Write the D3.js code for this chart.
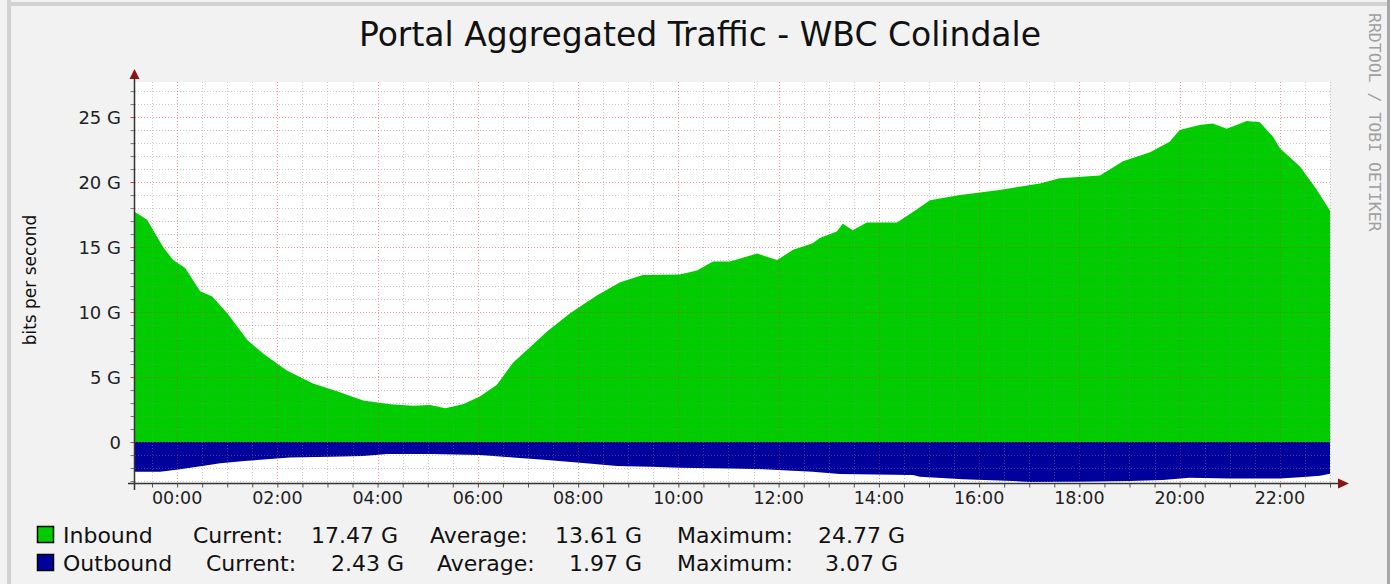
<!DOCTYPE html>
<html>
<head>
<meta charset="utf-8">
<script src="https://d3js.org/d3.v7.min.js"></script>
<style>
  body { margin: 0; background: #f2f2f2; }
  svg { display: block; font-family: "DejaVu Sans", sans-serif; }
</style>
</head>
<body>
<svg id="chart" width="1390" height="584"></svg>
<script>
// chart text
var titleText = "Portal Aggregated Traffic - WBC Colindale";
var yLabel = "bits per second";
var watermark = "RRDTOOL / TOBI OETIKER";

// inbound traffic, hours after midnight (negative = previous evening), in Gbit/s
var inTimes = [-0.84, -0.60, -0.28, -0.08, 0.16, 0.46, 0.70, 1.00, 1.40, 1.72, 2.19, 2.71, 3.19, 3.71,
  4.25, 4.71, 5.05, 5.35, 5.70, 6.04, 6.38, 6.70, 7.04, 7.38, 7.84, 8.38, 8.84, 9.29, 10.03, 10.37,
  10.69, 11.03, 11.57, 11.97, 12.29, 12.68, 12.82, 13.16, 13.28, 13.48, 13.76, 14.36, 14.68, 15.02,
  15.62, 16.41, 17.21, 17.61, 18.41, 18.87, 19.41, 19.80, 20.00, 20.40, 20.66, 20.94, 21.34, 21.60,
  21.86, 22.00, 22.40, 22.74, 23.00];
var inValues = [17.7, 17.1, 15.0, 14.0, 13.4, 11.6, 11.2, 9.9, 7.85, 6.8, 5.5, 4.5, 3.9, 3.2,
  2.9, 2.8, 2.85, 2.6, 2.9, 3.5, 4.4, 6.1, 7.3, 8.5, 9.9, 11.3, 12.3, 12.85, 12.9, 13.2,
  13.9, 13.9, 14.5, 14.0, 14.8, 15.3, 15.7, 16.2, 16.8, 16.3, 16.9, 16.9, 17.7, 18.6,
  19.0, 19.4, 19.9, 20.3, 20.5, 21.6, 22.3, 23.1, 24.0, 24.4, 24.5, 24.1, 24.7, 24.6,
  23.5, 22.6, 21.2, 19.4, 17.8];

// outbound traffic (drawn below zero), in Gbit/s
var outTimes = [-0.84, -0.34, 0.06, 0.40, 0.86, 1.40, 1.79, 2.25, 3.05, 3.71, 4.19, 5.05, 6.04, 6.70,
  7.38, 8.04, 8.78, 9.44, 10.03, 11.03, 11.69, 12.68, 13.22, 14.68, 14.82, 15.68, 16.67, 17.01,
  18.01, 19.01, 19.66, 20.20, 21.00, 22.00, 22.40, 22.80, 23.00];
var outValues = [2.28, 2.28, 2.1, 1.9, 1.64, 1.44, 1.33, 1.18, 1.13, 1.08, 0.92, 0.92, 1.0, 1.18,
  1.38, 1.59, 1.85, 1.9, 1.97, 2.03, 2.1, 2.28, 2.46, 2.54, 2.67, 2.87, 3.0, 3.07,
  3.05, 3.0, 2.92, 2.75, 2.8, 2.8, 2.7, 2.6, 2.43];

// axis ticks
var xTickHours = [0, 2, 4, 6, 8, 10, 12, 14, 16, 18, 20, 22];
var xTickLabels = ["00:00", "02:00", "04:00", "06:00", "08:00", "10:00", "12:00", "14:00", "16:00", "18:00", "20:00", "22:00"];
var yTickValues = [0, 5, 10, 15, 20, 25];
var yTickLabels = ["0", "5 G", "10 G", "15 G", "20 G", "25 G"];

// legend
var legendNames = ["Inbound", "Outbound"];
var legendCurrent = ["17.47 G", "2.43 G"];
var legendAverage = ["13.61 G", "1.97 G"];
var legendMaximum = ["24.77 G", "3.07 G"];
var legendColors = ["#00cc00", "#00009c"];

var svg = d3.select("#chart");

// plot box
var plotLeft = 135, plotRight = 1330, plotTop = 82, plotBottom = 483;

var x = d3.scaleLinear().domain([-0.84, 23.0]).range([plotLeft, plotRight]);
var y = d3.scaleLinear().domain([-3.15, 27.7]).range([plotBottom, plotTop]);

// frame
svg.append("rect").attr("width", 1390).attr("height", 584).attr("fill", "#f2f2f2");
svg.append("rect").attr("x", 7).attr("y", 0).attr("width", 4).attr("height", 584).attr("fill", "#d2d2d2");
svg.append("rect").attr("x", 7).attr("y", 2).attr("width", 1383).attr("height", 4).attr("fill", "#d2d2d2");
svg.append("rect").attr("x", 1387).attr("y", 0).attr("width", 3).attr("height", 584).attr("fill", "#a8a8a8");

// plot background
svg.append("rect")
  .attr("x", plotLeft).attr("y", plotTop)
  .attr("width", plotRight - plotLeft).attr("height", plotBottom - plotTop)
  .attr("fill", "#ffffff");

// areas
var inData = inTimes.map(function(t, i) { return [t, inValues[i]]; });
var outData = outTimes.map(function(t, i) { return [t, -outValues[i]]; });

var area = d3.area()
  .x(function(d) { return x(d[0]); })
  .y0(y(0))
  .y1(function(d) { return y(d[1]); });

svg.append("path").datum(inData).attr("d", area).attr("fill", legendColors[0]);
svg.append("path").datum(outData).attr("d", area).attr("fill", legendColors[1]);

// grid, drawn over the areas like rrdtool does
var minorX = d3.range(-0.5, 23.01, 0.5).filter(function(h) { return h % 2 !== 0; });
var minorY = d3.range(-3, 28, 1).filter(function(v) { return v % 5 !== 0; });

var grid = svg.append("g").attr("class", "grid");
grid.selectAll(".vminor").data(minorX).enter().append("line")
  .attr("x1", function(d) { return Math.round(x(d)) + 0.5; })
  .attr("x2", function(d) { return Math.round(x(d)) + 0.5; })
  .attr("y1", plotTop).attr("y2", plotBottom)
  .attr("stroke", "#8a8a8a").attr("stroke-opacity", 0.45).attr("stroke-dasharray", "1,2");
grid.selectAll(".hminor").data(minorY).enter().append("line")
  .attr("x1", plotLeft).attr("x2", plotRight)
  .attr("y1", function(d) { return Math.round(y(d)) + 0.5; })
  .attr("y2", function(d) { return Math.round(y(d)) + 0.5; })
  .attr("stroke", "#8a8a8a").attr("stroke-opacity", 0.45).attr("stroke-dasharray", "1,2");
grid.selectAll(".vmajor").data(xTickHours).enter().append("line")
  .attr("x1", function(d) { return Math.round(x(d)) + 0.5; })
  .attr("x2", function(d) { return Math.round(x(d)) + 0.5; })
  .attr("y1", plotTop).attr("y2", plotBottom)
  .attr("stroke", "#e03030").attr("stroke-opacity", 0.5).attr("stroke-dasharray", "1,2");
grid.selectAll(".hmajor").data(yTickValues).enter().append("line")
  .attr("x1", plotLeft).attr("x2", plotRight)
  .attr("y1", function(d) { return Math.round(y(d)) + 0.5; })
  .attr("y2", function(d) { return Math.round(y(d)) + 0.5; })
  .attr("stroke", "#e03030").attr("stroke-opacity", 0.5).attr("stroke-dasharray", "1,2");

// axes
var xAxis = svg.append("g").attr("transform", "translate(0," + (plotBottom + 0.5) + ")")
  .call(d3.axisBottom(x).tickValues(minorX.concat(xTickHours)).tickSize(4).tickFormat(""));
xAxis.select(".domain").remove();
xAxis.selectAll(".tick line").attr("stroke", "#555");

var yAxis = svg.append("g").attr("transform", "translate(" + (plotLeft - 0.5) + ",0)")
  .call(d3.axisLeft(y).tickValues(minorY.concat(yTickValues)).tickSize(4).tickFormat(""));
yAxis.select(".domain").remove();
yAxis.selectAll(".tick line").attr("stroke", function(d) { return d % 5 === 0 ? "#e03030" : "#777"; });

svg.append("line").attr("x1", 128).attr("x2", 1342).attr("y1", plotBottom + 0.5).attr("y2", plotBottom + 0.5)
  .attr("stroke", "#333").attr("stroke-width", 1.5);
svg.append("line").attr("x1", plotLeft - 0.5).attr("x2", plotLeft - 0.5).attr("y1", 490).attr("y2", 76)
  .attr("stroke", "#333").attr("stroke-width", 1.5);
svg.append("path").attr("d", "M" + (plotLeft - 5.5) + ",79 L" + (plotLeft - 0.5) + ",69 L" + (plotLeft + 4.5) + ",79 Z")
  .attr("fill", "#8b1515");
svg.append("path").attr("d", "M1338," + (plotBottom - 4.5) + " L1349," + (plotBottom + 0.5) + " L1338," + (plotBottom + 5.5) + " Z")
  .attr("fill", "#8b1515");

// tick labels
svg.selectAll(".xlab").data(xTickHours).enter().append("text")
  .attr("x", function(d) { return x(d); })
  .attr("y", 504)
  .attr("text-anchor", "middle")
  .attr("font-size", "17.5px")
  .attr("fill", "#222")
  .text(function(d, i) { return xTickLabels[i]; });

svg.selectAll(".ylab").data(yTickValues).enter().append("text")
  .attr("x", 121)
  .attr("y", function(d) { return y(d) + 6.5; })
  .attr("text-anchor", "end")
  .attr("font-size", "18px")
  .attr("fill", "#222")
  .text(function(d, i) { return yTickLabels[i]; });

// titles
svg.append("text").attr("x", 700).attr("y", 46).attr("text-anchor", "middle")
  .attr("font-size", "33px").attr("fill", "#111").text(titleText);

svg.append("text").attr("transform", "translate(36,280) rotate(-90)")
  .attr("text-anchor", "middle").attr("font-size", "17px").attr("fill", "#111").text(yLabel);

svg.append("text").attr("transform", "translate(1369,13) rotate(90)")
  .attr("font-family", "DejaVu Sans Mono, monospace")
  .attr("font-size", "16.5px").attr("fill", "#a0a0a0").text(watermark);

// legend
var rowY = [543, 571];
var colX = [[193, 398, 430, 642, 677, 905], [206, 404, 437, 642, 677, 898]];
legendNames.forEach(function(name, i) {
  var g = svg.append("g").attr("font-size", "22px").attr("fill", "#111");
  g.append("rect").attr("x", 37.5).attr("y", rowY[i] - 16.5).attr("width", 16).attr("height", 16)
    .attr("fill", legendColors[i]).attr("stroke", "#000").attr("stroke-width", 1.5);
  g.append("text").attr("x", 63).attr("y", rowY[i]).text(name);
  g.append("text").attr("x", colX[i][0]).attr("y", rowY[i]).text("Current:");
  g.append("text").attr("x", colX[i][1]).attr("y", rowY[i]).attr("text-anchor", "end").text(legendCurrent[i]);
  g.append("text").attr("x", colX[i][2]).attr("y", rowY[i]).text("Average:");
  g.append("text").attr("x", colX[i][3]).attr("y", rowY[i]).attr("text-anchor", "end").text(legendAverage[i]);
  g.append("text").attr("x", colX[i][4]).attr("y", rowY[i]).text("Maximum:");
  g.append("text").attr("x", colX[i][5]).attr("y", rowY[i]).attr("text-anchor", "end").text(legendMaximum[i]);
});
</script>
</body>
</html>
